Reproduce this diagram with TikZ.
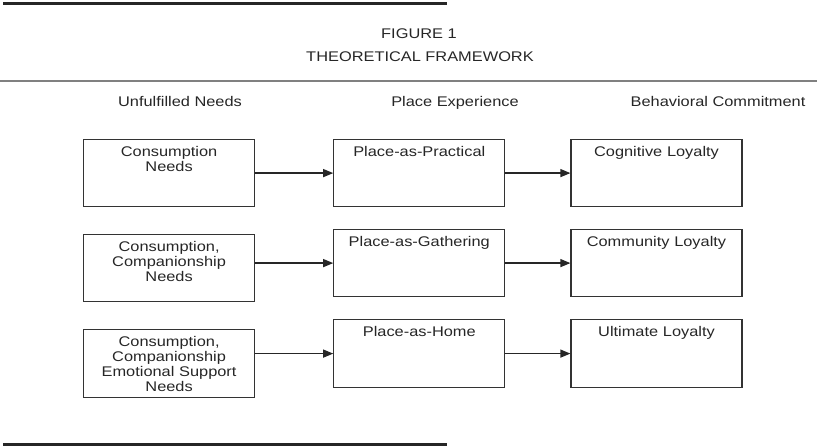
\documentclass[tikz,border=0pt]{standalone}
\usepackage{fontspec}
\setmainfont{Liberation Sans}[FakeStretch=1.17]
\usetikzlibrary{positioning, arrows.meta}

\tikzset{
	fwpicture/.style = {
		x = 0.75pt,
		y = -0.75pt,
		font = \fontsize{10.5pt}{11.25pt}\selectfont,
		text = black!85,
		arrow/.style = {
			draw = black!85,
			-{Triangle[length=7.5pt, width=6pt]},
			line width = 0.9pt,
		}
	},
	fwbox/.style = {
		rectangle,
		draw = black!80,
		line width = 0.9pt,
		inner sep = 0pt,
		text width = 128.25pt,
		align = center,
		text height = 12.75pt,
		text depth = 37.5pt,
		anchor = north west
	},
	fwhead/.style = {
		anchor = base
	},
	fwrule/.style = {
		draw = black!85,
		line width = 2.25pt
	},
	fwline/.style = {
		draw = black!50,
		line width = 1.3pt
	}
}

\begin{document}
\begin{tikzpicture}[fwpicture]
	\useasboundingbox (0,0) rectangle (817,448);

	% rules and title
	\path[fwrule] (3,4) -- (447,4);
	\path[fwrule] (3,445) -- (447,445);
	\path[fwline] (0,81) -- (817,81);

	\node[fwhead] (fig) at (419,39) {FIGURE 1};
	\node[fwhead] (title) at (420,62) {THEORETICAL FRAMEWORK};

	\node[fwhead] (hneeds) at (180,107) {Unfulfilled Needs};
	\node[fwhead] (hplace) at (455,107) {Place Experience};
	\node[fwhead] (hloyal) at (718,107) {Behavioral Commitment};

	% first row
	\node[fwbox] (needs1) at (83,139) {Consumption\\Needs};
	\node[fwbox, right = 58.5pt of needs1.north east, anchor = north west] (place1) {Place-as-Practical};
	\node[fwbox, right = 48.75pt of place1.north east, anchor = north west] (loyal1) {Cognitive Loyalty};

	% second row
	\node[fwbox] (needs2) at (83,234) {Consumption,\\Companionship\\Needs};
	\node[fwbox, above right = 3.75pt and 58.5pt of needs2.north east, anchor = north west] (place2) {Place-as-Gathering};
	\node[fwbox, right = 48.75pt of place2.north east, anchor = north west] (loyal2) {Community Loyalty};

	% third row
	\node[fwbox, text depth = 38.25pt] (needs3) at (83,329) {Consumption,\\Companionship\\Emotional Support\\Needs};
	\node[fwbox, above right = 7.5pt and 58.5pt of needs3.north east, anchor = north west, text depth = 38.25pt] (place3) {Place-as-Home};
	\node[fwbox, right = 48.75pt of place3.north east, anchor = north west, text depth = 38.25pt] (loyal3) {Ultimate Loyalty};

	\begin{scope}[every path/.style = arrow]
		\path (needs1.east |- place1.west) to (place1.west);
		\path (place1) to (loyal1);

		\path (needs2.east |- place2.west) to (place2.west);
		\path (place2) to (loyal2);

		\path (needs3.east |- place3.west) to (place3.west);
		\path (place3) to (loyal3);
	\end{scope}
\end{tikzpicture}
\end{document}
